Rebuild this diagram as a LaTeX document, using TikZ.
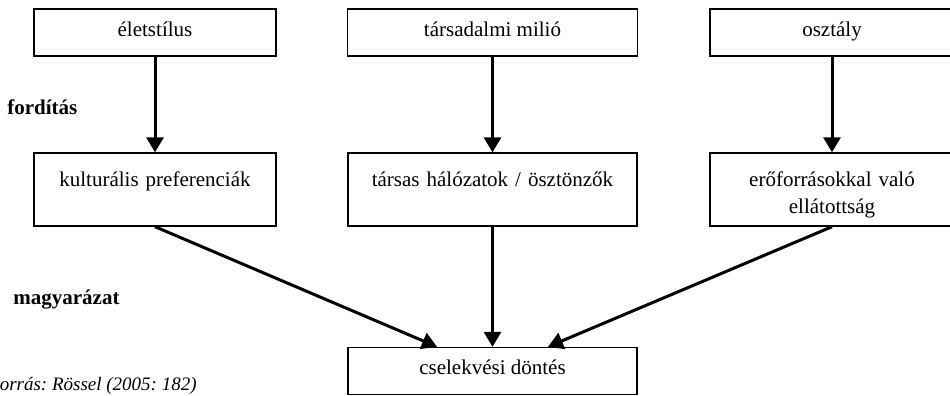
\documentclass[tikz,border=0pt]{standalone}
\usepackage{fontspec}
\setmainfont{Liberation Serif}
\usetikzlibrary{arrows.meta}
\frenchspacing
\tikzset{
  doboz/.style={draw,line width=0.7pt,inner sep=0pt,align=center,
    font=\fontsize{10.5}{13.5}\selectfont},
  felso/.style={doboz,text height=13.5pt,text depth=10pt},
  kozep/.style={doboz,text height=16.5pt,text depth=20pt},
  nyil/.style={line width=1.5pt,-{Triangle[length=7.5pt,width=8.5pt]}},
  cimke/.style={anchor=west,inner sep=0pt,font=\fontsize{10.5}{13}\selectfont\bfseries}
}

\begin{document}
\begin{tikzpicture}[x=0.5pt,y=-0.5pt]
  \useasboundingbox (0,0) rectangle (950,396);
  \clip (0,0) rectangle (950,396);

  % felso sor
  \node[felso,minimum width=121pt] (elet) at (155,32.5) {életstílus};
  \node[felso,minimum width=145pt] (milio) at (492.5,32.5) {társadalmi milió};
  \node[felso,minimum width=122pt] (osztaly) at (832,32.5) {osztály};

  % kozepso sor
  \node[kozep,text width=121pt] (kult) at (155,189.5) {kulturális preferenciák};
  \node[kozep,text width=144.5pt] (halo) at (492.5,189.5) {társas hálózatok / ösztönzők};
  \node[kozep,text width=122pt] (ero) at (832,189.5) {erőforrásokkal való\\ellátottság};

  % also doboz
  \node[felso,minimum width=144.5pt] (dontes) at (492.5,371) {cselekvési döntés};

  % nyilak
  \draw[nyil] (elet) -- (kult);
  \draw[nyil] (milio) -- (halo);
  \draw[nyil] (osztaly) -- (ero);
  \draw[nyil] (kult.south) -- ([xshift=-27.75pt]dontes.north);
  \draw[nyil] (halo) -- (dontes);
  \draw[nyil] (ero.south) -- ([xshift=27.75pt]dontes.north);

  % feliratok
  \node[cimke] (ford) at (7,107) {fordítás};
  \node[cimke] (magy) at (13,300) {magyarázat};
  \node[anchor=east,inner sep=0pt,font=\fontsize{9.5}{12}\selectfont\itshape] (forras) at (197,386) {Forrás: Rössel (2005: 182)};
\end{tikzpicture}
\end{document}
